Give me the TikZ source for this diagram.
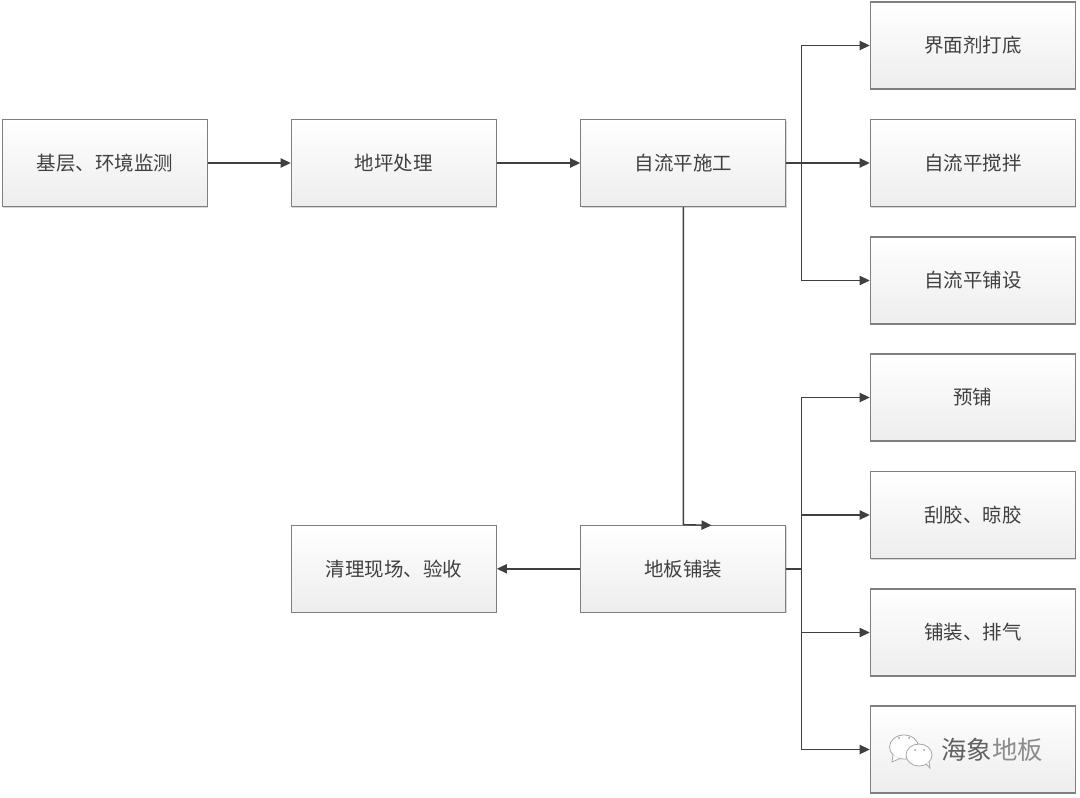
\documentclass[tikz,border=0pt]{standalone}
\usepackage{fontspec}
\setmainfont{Noto Sans CJK SC}
\usetikzlibrary{arrows.meta,shadows}
\definecolor{ink}{HTML}{404040}
\definecolor{edge}{HTML}{7F7F7F}
\tikzset{
 x=0.75pt,y=-0.75pt,
 pbox/.style={draw=edge,line width=0.9pt,minimum width=153.8pt,minimum height=65.3pt,inner sep=0pt,
   top color=white,bottom color=black!7,text=ink,font=\fontsize{14.6}{16}\selectfont,
   drop shadow={shadow xshift=0.8pt,shadow yshift=-0.8pt,fill=black!25,opacity=0.6}},
 link/.style={draw=ink,line width=1.05pt,-{Triangle[length=7.5pt,width=7pt]}},
 plain/.style={draw=ink,line width=1.05pt},
 bubble/.style={draw=black!35,line width=0.6pt,fill=white},
 wmark/.style={font=\fontsize{19}{21}\selectfont,inner sep=0pt}
}
\begin{document}
\begin{tikzpicture}
\useasboundingbox (0,0) rectangle (1080,798);
\fill[white] (0,0) rectangle (1080,798);
\node[pbox] (a) at (104.8,163) {基层、环境监测};
\node[pbox] (b) at (393.8,163) {地坪处理};
\node[pbox] (c) at (683.3,163) {自流平施工};
\node[pbox] (c1) at (972.8,45.5) {界面剂打底};
\node[pbox] (c2) at (972.8,163) {自流平搅拌};
\node[pbox] (c3) at (972.8,280.5) {自流平铺设};
\node[pbox] (d1) at (972.8,397.5) {预铺};
\node[pbox] (d2) at (972.8,515) {刮胶、晾胶};
\node[pbox] (d3) at (972.8,632.5) {铺装、排气};
\node[pbox] (d4) at (972.8,749.5) {};
\node[pbox] (d) at (683.3,568.8) {地板铺装};
\node[pbox] (e) at (393.8,568.8) {清理现场、验收};
\draw[link] (a) -- (b);
\draw[link] (b) -- (c);
\coordinate (cbus) at (801.5,163);
\coordinate (dbus) at (801.5,568.8);
\coordinate (dtip) at (711.5,525.3);
\draw[plain] (c.east) -- (cbus);
\draw[link] (cbus) -- (c2);
\draw[link] (cbus) |- (c1);
\draw[link] (cbus) |- (c3);
\draw[plain] (d.east) -- (dbus);
\draw[link] (dbus) |- (d1);
\draw[link] (dbus) |- (d2);
\draw[link] (dbus) |- (d3);
\draw[link] (dbus) |- (d4);
\draw[link] (c.south) -- (d.north) -- (dtip);
\draw[link] (d) -- (e);
% watermark
\draw[bubble] (904,747) ellipse (14.5 and 12);
\draw[bubble] (893,755) -- (892,762) -- (900,758.5);
\draw[bubble] (919,755) ellipse (13 and 11);
\draw[bubble] (926,764) -- (930,768) -- (929,762);
\fill[black!40] (899,738) circle (1) (909,738) circle (1) (915,750) circle (1) (924,750) circle (1);
\node[wmark] (w) at (992,750) {\textcolor{black!62}{海象}\textcolor{black!45}{地板}};
\end{tikzpicture}
\end{document}
